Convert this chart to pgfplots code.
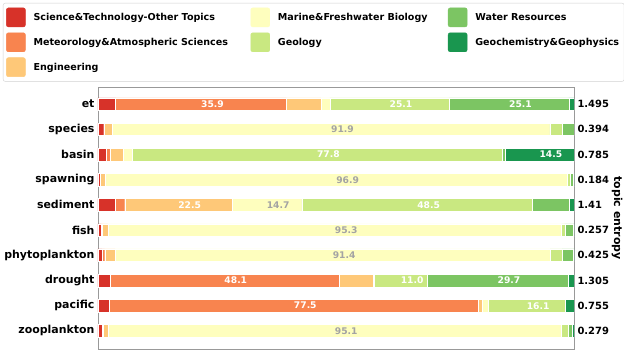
\documentclass[border=0pt]{standalone}
\usepackage{pgfplots}
\usepackage{pgfplotstable}
\pgfplotsset{compat=1.18}
\usepackage{fontspec}
\setmainfont{DejaVu Sans}
\definecolor{csci}{HTML}{D73229}
\definecolor{cmet}{HTML}{F8844F}
\definecolor{ceng}{HTML}{FEC878}
\definecolor{cmar}{HTML}{FEFEBE}
\definecolor{cgeo}{HTML}{C9E881}
\definecolor{cwat}{HTML}{7CC563}
\definecolor{cgch}{HTML}{19964F}
\definecolor{lblgray}{HTML}{A3A3A3}
\newcommand\lgf{\fontsize{9.6}{11.5}\selectfont\bfseries}
\newcommand\rtf{\fontsize{10}{12}\selectfont\bfseries}
\newcommand\blf{\fontsize{9.2}{11}\selectfont\bfseries}
\newcommand\tkf{\fontsize{11}{13}\selectfont\bfseries}
\newcommand\ylf{\fontsize{11}{13}\selectfont\bfseries}
\pgfplotsset{sw/.style={legend image code/.code={\fill[#1] (0bp,-9.5bp) rectangle (19bp,9.5bp); \path (25bp,0bp);}}}
\pgfplotstableread{
y sci met eng mar geo wat gch
0 3.7 35.9 7.2 1.9 25.1 25.1 1.1
1 1.2 0.1 1.7 91.9 2.7 2.4 0.0
2 1.8 0.7 2.7 1.9 77.8 0.6 14.5
3 0.4 0.1 1.1 96.9 0.7 0.7 0.1
4 3.6 2.0 22.5 14.7 48.5 7.7 1.0
5 0.6 0.3 1.2 95.3 0.7 1.8 0.1
6 0.8 0.6 2.2 91.4 2.5 2.4 0.1
7 2.5 48.1 7.2 0.3 11.0 29.7 1.2
8 2.4 77.5 0.9 1.2 16.1 0.1 1.8
9 0.8 0.3 1.1 95.1 1.4 0.9 0.4
}\data
\pgfplotstableread{
x y l
24.05 0 35.9
63.65 0 25.1
88.75 0 25.1
48.4 2 77.8
95.15 2 14.5
19.25 4 22.5
69.45 4 48.5
28.95 7 48.1
66.0 7 11.0
86.35 7 29.7
43.55 8 77.5
92.45 8 16.1
}\whitelbl
\pgfplotstableread{
x y l
51.35 1 91.9
52.45 3 96.9
37.85 4 14.7
52.15 5 95.3
51.7 6 91.4
52.15 9 95.1
}\graylbl
\begin{document}
\begin{tikzpicture}
\begin{axis}[name=main, at={(0,0)}, anchor=south west,
  scale only axis, width=476bp, height=262bp,
  xmin=0, xmax=100, ymin=-0.68, ymax=9.72, y dir=reverse,
  xbar stacked, bar width=0.5,
  xtick=\empty, ytick={0,...,9},
  yticklabels={et,species,basin,spawning,sediment,fish,phytoplankton,drought,pacific,zooplankton},
  major tick length=0, yticklabel style={font=\tkf},
  axis line style={black!40, line width=0.8bp},
  legend columns=3,
  legend cell align=left,
  legend style={at={(-0.1996,1.3206)}, anchor=north west, draw=black!18, rounded corners=2bp,
    font=\lgf, inner xsep=3bp, inner ysep=4.5bp, row sep=5.5bp, column sep=0bp,
    nodes={inner sep=2pt}},
]
\addplot[fill=csci, draw=white, line width=0.3bp, forget plot] table[x=sci,y=y]{\data};
\addplot[fill=cmet, draw=white, line width=0.3bp, forget plot] table[x=met,y=y]{\data};
\addplot[fill=ceng, draw=white, line width=0.3bp, forget plot] table[x=eng,y=y]{\data};
\addplot[fill=cmar, draw=white, line width=0.3bp, forget plot] table[x=mar,y=y]{\data};
\addplot[fill=cgeo, draw=white, line width=0.3bp, forget plot] table[x=geo,y=y]{\data};
\addplot[fill=cwat, draw=white, line width=0.3bp, forget plot] table[x=wat,y=y]{\data};
\addplot[fill=cgch, draw=white, line width=0.3bp, forget plot] table[x=gch,y=y]{\data};
\addlegendimage{sw=csci}\addlegendentry{\makebox[215bp][l]{Science\&Technology-Other Topics}}
\addlegendimage{sw=cmar}\addlegendentry{\makebox[168bp][l]{Marine\&Freshwater Biology}}
\addlegendimage{sw=cwat}\addlegendentry{Water Resources}
\addlegendimage{sw=cmet}\addlegendentry{Meteorology\&Atmospheric Sciences}
\addlegendimage{sw=cgeo}\addlegendentry{Geology}
\addlegendimage{sw=cgch}\addlegendentry{Geochemistry\&Geophysics}
\addlegendimage{sw=ceng}\addlegendentry{Engineering}
\end{axis}
\begin{axis}[at={(0,0)}, anchor=south west,
  scale only axis, width=476bp, height=262bp,
  xmin=0, xmax=100, ymin=-0.68, ymax=9.72, y dir=reverse,
  axis line style={draw=none}, xtick=\empty, ytick={0,...,9},
  yticklabels={1.495,0.394,0.785,0.184,1.41,0.257,0.425,1.305,0.755,0.279},
  yticklabel pos=right, major tick length=0,
  yticklabel style={font=\rtf},
  ylabel={topic entropy}, ylabel style={font=\ylf, rotate=180},
  ylabel shift={-4bp},
]
\addplot[draw=none, mark=none, nodes near coords, point meta=explicit symbolic,
  every node near coord/.append style={anchor=center, text=white, font=\blf}]
  table[x=x,y=y,meta=l]{\whitelbl};
\addplot[draw=none, mark=none, nodes near coords, point meta=explicit symbolic,
  every node near coord/.append style={anchor=center, text=lblgray, font=\blf}]
  table[x=x,y=y,meta=l]{\graylbl};
\end{axis}
\pgfresetboundingbox
\path ([xshift=-98bp,yshift=-2bp]main.south west) rectangle ([xshift=50bp,yshift=87bp]main.north east);
\end{tikzpicture}
\end{document}
